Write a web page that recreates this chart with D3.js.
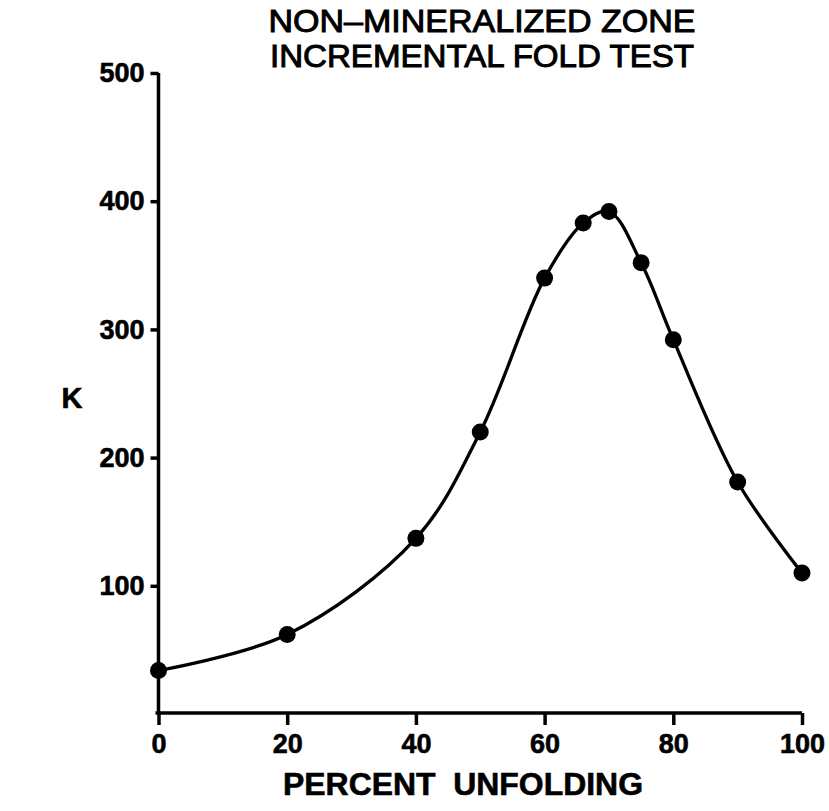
<!DOCTYPE html>
<html>
<head>
<meta charset="utf-8">
<script src="https://cdn.jsdelivr.net/npm/d3@7"></script>
<style>
  body { margin: 0; background: #fff; }
  text { font-family: "Liberation Sans", Arial, Helvetica, sans-serif; fill: #000; }
</style>
</head>
<body>
<div class="chart"></div>
<script>
// percent unfolding vs. precision parameter K
const unfolding = [0, 20, 40, 50, 60, 66, 70, 75, 80, 90, 100];
const kValues = [34, 62, 137, 220, 340, 383, 392, 352, 292, 181, 110];
const xTicks = [0, 20, 40, 60, 80, 100];
const yTicks = [100, 200, 300, 400, 500];
const titleLines = ["NON\u2013MINERALIZED ZONE", "INCREMENTAL FOLD TEST"];

var cfg = {
  width: 829,
  height: 811
};

var scale = {
  x: d3.scaleLinear().domain([0, 100]).range([158.5, 802]),
  y: d3.scaleLinear().domain([0, 500]).range([714, 73])
};

var svg = d3.select(".chart").append("svg")
  .attr("width", cfg.width)
  .attr("height", cfg.height);

// title
svg.selectAll(".title")
  .data(titleLines)
  .enter().append("text")
  .attr("class", "title")
  .attr("x", 482)
  .attr("y", (d, i) => 32 + i * 35)
  .attr("text-anchor", "middle")
  .attr("textLength", (d, i) => i == 0 ? 427 : 424)
  .attr("lengthAdjust", "spacingAndGlyphs")
  .style("font-size", "32px")
  .style("stroke", "#000")
  .style("stroke-width", 1)
  .text(d => d);

// x axis
var xAxis = svg.append("g")
  .attr("transform", `translate(0, ${scale.y(0) - 1})`)
  .call(d3.axisBottom(scale.x).tickValues(xTicks).tickSize(12).tickSizeOuter(0).tickPadding(8));
xAxis.select(".domain").attr("d", `M${scale.x(0) - 3},0H${scale.x(100)}`);

// y axis
var yAxis = svg.append("g")
  .attr("transform", `translate(${scale.x(0)}, 0)`)
  .call(d3.axisLeft(scale.y).tickValues(yTicks).tickSize(8).tickSizeOuter(0).tickPadding(6));
yAxis.select(".domain").attr("d", `M0,${scale.y(500)}V${scale.y(0)}`);

[xAxis, yAxis].forEach(ax => {
  ax.selectAll(".domain, line")
    .style("stroke", "#000")
    .style("stroke-width", 3.5);
  ax.selectAll("text")
    .style("font-size", "27px")
    .style("font-weight", "bold")
    .style("stroke", "#000")
    .style("stroke-width", 0.6)
    .style("font-family", "'Liberation Sans', Arial, sans-serif");
});
xAxis.selectAll("text").attr("dy", "0.75em");

// axis titles
svg.append("text")
  .attr("x", 463)
  .attr("y", 795)
  .attr("text-anchor", "middle")
  .attr("textLength", 360)
  .attr("lengthAdjust", "spacingAndGlyphs")
  .style("font-size", "31px")
  .style("font-weight", "bold")
  .style("stroke", "#000")
  .style("stroke-width", 0.6)
  .style("white-space", "pre")
  .text("PERCENT  UNFOLDING");

svg.append("text")
  .attr("x", 72)
  .attr("y", 408)
  .attr("text-anchor", "middle")
  .style("font-size", "29px")
  .style("font-weight", "bold")
  .style("stroke", "#000")
  .style("stroke-width", 0.6)
  .text("K");

// curve
var line = d3.line()
  .x((d, i) => scale.x(unfolding[i]))
  .y(d => scale.y(d))
  .curve(d3.curveCatmullRom.alpha(0.5));

svg.append("path")
  .datum(kValues)
  .attr("d", line)
  .attr("fill", "none")
  .attr("stroke", "#000")
  .attr("stroke-width", 3.3);

// points
svg.selectAll(".pt")
  .data(kValues)
  .enter().append("circle")
  .attr("class", "pt")
  .attr("cx", (d, i) => scale.x(unfolding[i]))
  .attr("cy", d => scale.y(d))
  .attr("r", 8.5)
  .attr("fill", "#000");
</script>
</body>
</html>
